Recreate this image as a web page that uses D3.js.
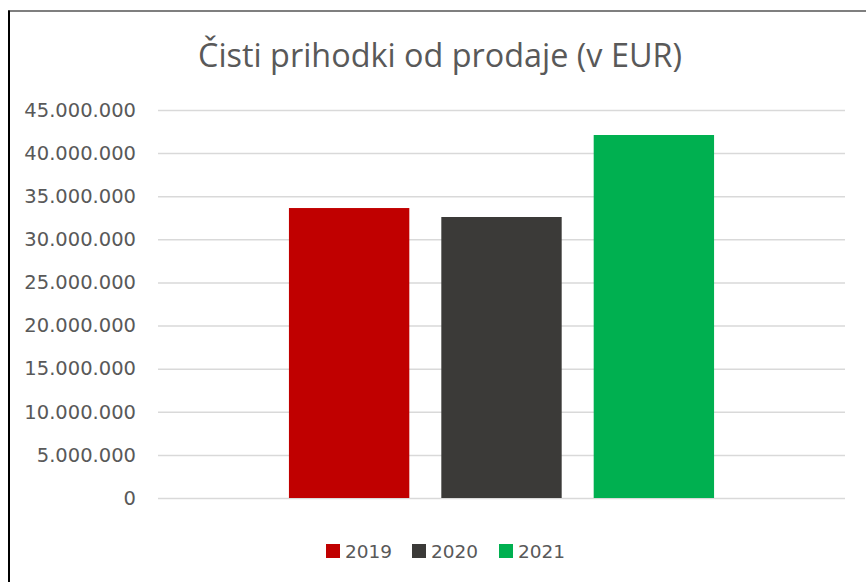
<!DOCTYPE html>
<html lang="sl">
<head>
  <meta charset="UTF-8">
  <style>
    body { margin: 0; background: #fff; }
    svg { display: block; }
    .title { font-family: "Open Sans", sans-serif; fill: #595959; }
    .axis text, .legend text { font-family: "DejaVu Sans", sans-serif; fill: #595959; }
    .grid line { stroke: #d9d9d9; stroke-width: 1.5; }
    .grid path { display: none; }
  </style>
</head>
<body>
  <svg id="chart" width="866" height="582"></svg>
  <script src="https://cdnjs.cloudflare.com/ajax/libs/d3/7.8.5/d3.min.js"></script>
  <script>
    // data
    const title = 'Čisti prihodki od prodaje (v EUR)'
    const years = ['2019', '2020', '2021']
    const revenue = [33630000, 32590000, 42100000]
    const colors = ['#c00000', '#3b3a38', '#00b050']
    const yTicks = [0, 5e6, 10e6, 15e6, 20e6, 25e6, 30e6, 35e6, 40e6, 45e6]

    const plot = { left: 158, right: 845, top: 110, bottom: 498 }

    const svg = d3.select('#chart')

    // chart frame (left and top edges visible)
    svg.append('line')
        .attr('x1', 9).attr('x2', 9).attr('y1', 10.5).attr('y2', 582)
        .attr('stroke', '#000').attr('stroke-width', 2)
    svg.append('line')
        .attr('x1', 8).attr('x2', 866).attr('y1', 11).attr('y2', 11)
        .attr('stroke', '#000').attr('stroke-width', 1.2)

    // title
    svg.append('text')
        .attr('class', 'title')
        .attr('x', 440)
        .attr('y', 67)
        .attr('text-anchor', 'middle')
        .attr('font-size', 33)
        .attr('textLength', 484)
        .attr('lengthAdjust', 'spacingAndGlyphs')
        .text(title)

    const y = d3.scaleLinear()
      .domain([0, 45e6])
      .range([plot.bottom, plot.top])

    // one category, three series side by side
    const x0 = d3.scaleBand()
      .domain(['all'])
      .range([plot.left, plot.right])
      .paddingInner(0)
      .paddingOuter(0.308)
    const x1 = d3.scaleBand()
      .domain(years)
      .range([0, x0.bandwidth()])
      .paddingInner(0.21)

    const fmt = d3.formatLocale({ decimal: ',', thousands: '.', grouping: [3], currency: ['', ' €'] })
      .format(',.0f')

    // grid
    svg.append('g')
        .attr('class', 'grid')
        .attr('transform', `translate(${plot.left}, 0)`)
        .call(d3.axisLeft(y).tickValues(yTicks).tickSize(-(plot.right - plot.left)).tickFormat(''))

    // y labels
    const yAxis = svg.append('g')
        .attr('class', 'axis')
        .attr('transform', `translate(136, 0)`)
        .call(d3.axisLeft(y).tickValues(yTicks).tickSize(0).tickPadding(0).tickFormat(fmt))
    yAxis.select('.domain').remove()
    yAxis.selectAll('text')
        .attr('font-size', 19.5)
        .attr('text-anchor', 'end')

    // bars
    svg.append('g')
      .selectAll('rect')
      .data(years)
      .join('rect')
        .attr('x', d => x0('all') + x1(d))
        .attr('width', x1.bandwidth())
        .attr('y', (d, i) => y(revenue[i]))
        .attr('height', (d, i) => y(0) - y(revenue[i]))
        .attr('fill', (d, i) => colors[i])

    // legend
    const legendX = [326, 412, 499]
    const legend = svg.append('g')
        .attr('class', 'legend')
      .selectAll('g')
      .data(years)
      .join('g')
        .attr('transform', (d, i) => `translate(${legendX[i]}, 544)`)
    legend.append('rect')
        .attr('width', 14).attr('height', 14)
        .attr('fill', (d, i) => colors[i])
    legend.append('text')
        .attr('x', 19)
        .attr('y', 14)
        .attr('font-size', 18.5)
        .text(d => d)
  </script>
</body>
</html>
